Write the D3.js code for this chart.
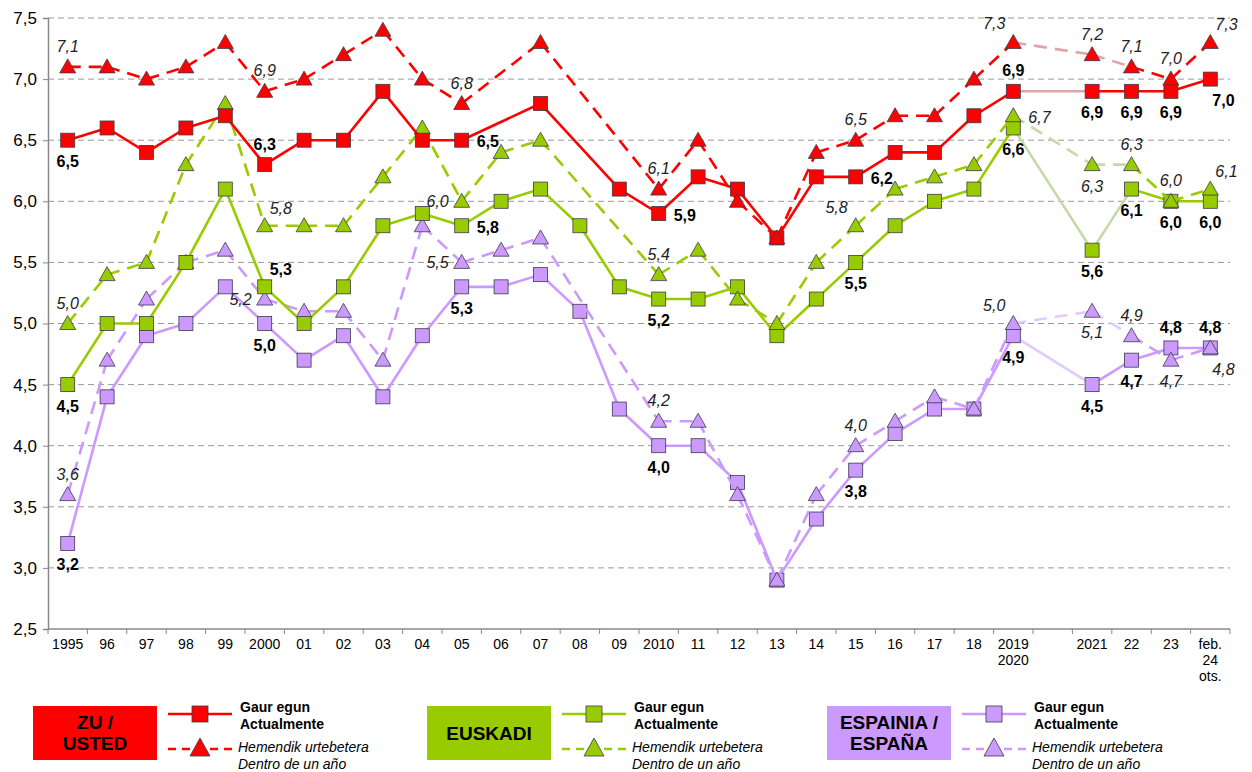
<!DOCTYPE html>
<html>
<head>
<meta charset="utf-8">
<script src="https://cdn.jsdelivr.net/npm/d3@7"></script>
<style>
  html, body { margin: 0; padding: 0; background: #fff; }
  #chart { width: 1252px; height: 772px; }
  text { font-family: "Liberation Sans", Arial, sans-serif; }
</style>
</head>
<body>
<div id="chart"></div>
<script>
// categorías del eje X (2020 es un hueco sin datos)
const categories = ['1995','96','97','98','99','2000','01','02','03','04','05','06','07','08','09',
  '2010','11','12','13','14','15','16','17','18','2019','2020','2021','22','23','feb24'];
const tickLabels = [['1995'],['96'],['97'],['98'],['99'],['2000'],['01'],['02'],['03'],['04'],['05'],['06'],['07'],['08'],['09'],
  ['2010'],['11'],['12'],['13'],['14'],['15'],['16'],['17'],['18'],['2019','2020'],[''],['2021'],['22'],['23'],['feb.','24','ots.']];
const yTicks = [2.5, 3.0, 3.5, 4.0, 4.5, 5.0, 5.5, 6.0, 6.5, 7.0, 7.5];

// ZU / USTED
const zuNow  = [6.5,6.6,6.4,6.6,6.7,6.3,6.5,6.5,6.9,6.5,6.5,null,6.8,null,6.1,5.9,6.2,6.1,5.7,6.2,6.2,6.4,6.4,6.7,6.9,null,6.9,6.9,6.9,7.0];
const zuNext = [7.1,7.1,7.0,7.1,7.3,6.9,7.0,7.2,7.4,7.0,6.8,null,7.3,null,null,6.1,6.5,6.0,5.7,6.4,6.5,6.7,6.7,7.0,7.3,null,7.2,7.1,7.0,7.3];
// EUSKADI
const euskNow  = [4.5,5.0,5.0,5.5,6.1,5.3,5.0,5.3,5.8,5.9,5.8,6.0,6.1,5.8,5.3,5.2,5.2,5.3,4.9,5.2,5.5,5.8,6.0,6.1,6.6,null,5.6,6.1,6.0,6.0];
const euskNext = [5.0,5.4,5.5,6.3,6.8,5.8,5.8,5.8,6.2,6.6,6.0,6.4,6.5,null,null,5.4,5.6,5.2,5.0,5.5,5.8,6.1,6.2,6.3,6.7,null,6.3,6.3,6.0,6.1];
// ESPAINIA / ESPAÑA
const spainNow  = [3.2,4.4,4.9,5.0,5.3,5.0,4.7,4.9,4.4,4.9,5.3,5.3,5.4,5.1,4.3,4.0,4.0,3.7,2.9,3.4,3.8,4.1,4.3,4.3,4.9,null,4.5,4.7,4.8,4.8];
const spainNext = [3.6,4.7,5.2,5.5,5.6,5.2,5.1,5.1,4.7,5.8,5.5,5.6,5.7,null,null,4.2,4.2,3.6,2.9,3.6,4.0,4.2,4.4,4.3,5.0,null,5.1,4.9,4.7,4.8];

// qué puntos llevan etiqueta y dónde (b=abajo, t=arriba, r/l=lado)
const zuNowLabels   = {'1995':'b','2000':'t','05':'r','2010':'r','15':'r','2019':'t','2021':'b','22':'b','23':'b','feb24':'br'};
const zuNextLabels  = {'1995':'t','2000':'t','05':'t','2010':'t','15':'t','2019':'tl','2021':'t','22':'t','23':'t','feb24':'tr'};
const euskNowLabels = {'1995':'b','2000':'tr','05':'r','2010':'b','15':'b','2019':'b','2021':'b','22':'b','23':'b','feb24':'b'};
const euskNextLabels= {'1995':'t','2000':'tr','05':'l','2010':'t','15':'tl','2019':'r','2021':'b','22':'t','23':'t','feb24':'tr'};
const spainNowLabels= {'1995':'b','2000':'b','05':'b','2010':'b','15':'b','2019':'b','2021':'b','22':'b','23':'t','feb24':'t'};
const spainNextLabels={'1995':'t','2000':'l','05':'l','2010':'t','15':'t','2019':'tl','2021':'b','22':'t','23':'b','feb24':'br'};

const series = [
  { name: 'spainNow',  values: spainNow,  labels: spainNowLabels,  color: '#CC99FF', faded: '#E2CCFF', dash: null,    marker: 'sq',  bold: true,  fade: ['2019'] },
  { name: 'spainNext', values: spainNext, labels: spainNextLabels, color: '#CC99FF', faded: '#E2CCFF', dash: '13,8',  marker: 'tri', bold: false, fade: ['2019','2021'] },
  { name: 'euskNow',   values: euskNow,   labels: euskNowLabels,   color: '#99CC00', faded: '#C6D9A6', dash: null,    marker: 'sq',  bold: true,  fade: ['2019','2021'] },
  { name: 'euskNext',  values: euskNext,  labels: euskNextLabels,  color: '#99CC00', faded: '#C6D9A6', dash: '13,8',  marker: 'tri', bold: false, fade: ['2019','2021'] },
  { name: 'zuNow',     values: zuNow,     labels: zuNowLabels,     color: '#FF0000', faded: '#E2A4A4', dash: null,    marker: 'sq',  bold: true,  fade: ['2019'] },
  { name: 'zuNext',    values: zuNext,    labels: zuNextLabels,    color: '#FF0000', faded: '#E2A4A4', dash: '13,8',  marker: 'tri', bold: false, fade: ['2019','2021'] }
];

const legendGroups = [
  { title: ['ZU /', 'USTED'],        color: '#FF0000' },
  { title: ['EUSKADI'],              color: '#99CC00' },
  { title: ['ESPAINIA /', 'ESPAÑA'], color: '#CC99FF' }
];

function fmt(v) { return v.toFixed(1).replace('.', ','); }

function drawChart() {
  const width = 1252, height = 772;
  const left = 48, right = 1230, top = 18, bottom = 629;

  const svg = d3.select('#chart').append('svg')
    .attr('width', width).attr('height', height);

  const x = d3.scaleBand().domain(categories).range([left, right]).padding(0);
  const y = d3.scaleLinear().domain([2.5, 7.5]).range([bottom, top]);
  const cx = c => x(c) + x.bandwidth() / 2;

  // rejilla
  svg.append('g').selectAll('line')
    .data(yTicks.filter(t => t > 2.5))
    .join('line')
    .attr('x1', left).attr('x2', right)
    .attr('y1', d => y(d)).attr('y2', d => y(d))
    .attr('stroke', '#999').attr('stroke-width', 1)
    .attr('stroke-dasharray', '6,4');

  // eje Y
  const yAxis = svg.append('g')
    .attr('transform', `translate(${left},0)`)
    .call(d3.axisLeft(y).tickValues(yTicks).tickFormat(fmt).tickSize(5).tickPadding(6));
  yAxis.select('.domain').attr('stroke', '#888').attr('stroke-width', 1.5);
  yAxis.selectAll('.tick line').attr('stroke', '#888');
  yAxis.selectAll('.tick text').attr('font-size', 17).attr('fill', '#000')
    .attr('font-family', '"Liberation Sans", Arial, sans-serif');

  // eje X: línea, marcas entre categorías y etiquetas
  svg.append('line')
    .attr('x1', left).attr('x2', right).attr('y1', bottom).attr('y2', bottom)
    .attr('stroke', '#888').attr('stroke-width', 1.5);
  svg.append('g').selectAll('line')
    .data(categories.map(c => x(c)).concat([right]))
    .join('line')
    .attr('x1', d => d).attr('x2', d => d)
    .attr('y1', bottom).attr('y2', bottom + 5)
    .attr('stroke', '#888');
  const xl = svg.append('g').selectAll('text')
    .data(categories)
    .join('text')
    .attr('x', d => cx(d))
    .attr('y', bottom + 20)
    .attr('text-anchor', 'middle')
    .attr('font-size', 14);
  xl.each(function(d, i) {
    tickLabels[i].forEach((t, k) => {
      d3.select(this).append('tspan')
        .attr('x', cx(d)).attr('dy', k === 0 ? 0 : 16).text(t);
    });
  });

  const tri = 'M0,-8L8,6L-8,6Z';
  const line = d3.line().x(d => cx(d.c)).y(d => y(d.v));

  const offsets = {
    b:  [0, 27, 'middle'],
    t:  [0, -15, 'middle'],
    r:  [15, 7, 'start'],
    l:  [-13, 6, 'end'],
    tr: [5, -12, 'start'],
    tl: [-8, -13, 'end'],
    br: [2, 27, 'start']
  };

  series.forEach(s => {
    const pts = categories.map((c, i) => ({ c: c, v: s.values[i] })).filter(p => p.v != null);
    const g = svg.append('g').attr('class', s.name);

    // tramos de línea (los de 2019-2021 van más claros)
    const segs = d3.pairs(pts);
    g.selectAll('path.seg')
      .data(segs)
      .join('path')
      .attr('class', 'seg')
      .attr('d', d => line(d))
      .attr('fill', 'none')
      .attr('stroke', d => s.fade.includes(d[0].c) ? s.faded : s.color)
      .attr('stroke-width', 2.6)
      .attr('stroke-dasharray', s.dash);

    // marcadores
    if (s.marker === 'sq') {
      g.selectAll('rect')
        .data(pts)
        .join('rect')
        .attr('x', d => cx(d.c) - 7).attr('y', d => y(d.v) - 7)
        .attr('width', 14).attr('height', 14)
        .attr('fill', s.color).attr('stroke', '#3a3a4a').attr('stroke-width', 0.8);
    } else {
      g.selectAll('path.mk')
        .data(pts)
        .join('path')
        .attr('class', 'mk')
        .attr('d', tri)
        .attr('transform', d => `translate(${cx(d.c)},${y(d.v)})`)
        .attr('fill', s.color).attr('stroke', '#3a3a4a').attr('stroke-width', 0.8);
    }

    s.labelPts = pts.filter(p => s.labels[p.c]);
  });

  // etiquetas de valores encima de todo
  series.forEach(s => {
    svg.append('g').selectAll('text')
      .data(s.labelPts)
      .join('text')
      .attr('x', d => cx(d.c) + offsets[s.labels[d.c]][0])
      .attr('y', d => y(d.v) + offsets[s.labels[d.c]][1])
      .attr('text-anchor', d => offsets[s.labels[d.c]][2])
      .attr('font-size', 16)
      .attr('font-weight', s.bold ? 'bold' : 'normal')
      .attr('font-style', s.bold ? 'normal' : 'italic')
      .attr('fill', s.bold ? '#000' : '#222')
      .text(d => fmt(d.v));
  });

  // leyenda
  const legX = [33, 427, 827];
  legendGroups.forEach((lg, i) => {
    const gx = legX[i];
    const g = svg.append('g');
    g.append('rect')
      .attr('x', gx).attr('y', 706).attr('width', 124).attr('height', 54)
      .attr('fill', lg.color);
    lg.title.forEach((t, k) => {
      g.append('text')
        .attr('x', gx + 62)
        .attr('y', lg.title.length === 1 ? 740 : 729 + k * 21)
        .attr('text-anchor', 'middle')
        .attr('font-size', 19).attr('font-weight', 'bold')
        .text(t);
    });
    const lx = gx + 135, mx = gx + 167;
    g.append('line').attr('x1', lx).attr('x2', lx + 64).attr('y1', 714).attr('y2', 714)
      .attr('stroke', lg.color).attr('stroke-width', 2.6);
    g.append('rect').attr('x', mx - 8).attr('y', 706).attr('width', 16).attr('height', 16)
      .attr('fill', lg.color).attr('stroke', '#3a3a4a').attr('stroke-width', 0.8);
    g.append('line').attr('x1', lx).attr('x2', lx + 64).attr('y1', 749).attr('y2', 749)
      .attr('stroke', lg.color).attr('stroke-width', 2.6).attr('stroke-dasharray', '8,6');
    g.append('path').attr('d', 'M0,-10L10,8L-10,8Z')
      .attr('transform', `translate(${mx},${748})`)
      .attr('fill', lg.color).attr('stroke', '#3a3a4a').attr('stroke-width', 0.8);
    const tx = gx + 207;
    g.append('text').attr('x', tx).attr('y', 712).attr('font-size', 14).attr('font-weight', 'bold').text('Gaur egun');
    g.append('text').attr('x', tx).attr('y', 729).attr('font-size', 14).attr('font-weight', 'bold').text('Actualmente');
    g.append('text').attr('x', tx - 2).attr('y', 752).attr('font-size', 14).attr('font-style', 'italic').text('Hemendik urtebetera');
    g.append('text').attr('x', tx - 2).attr('y', 769).attr('font-size', 14).attr('font-style', 'italic').text('Dentro de un año');
  });
}

drawChart();
</script>
</body>
</html>
